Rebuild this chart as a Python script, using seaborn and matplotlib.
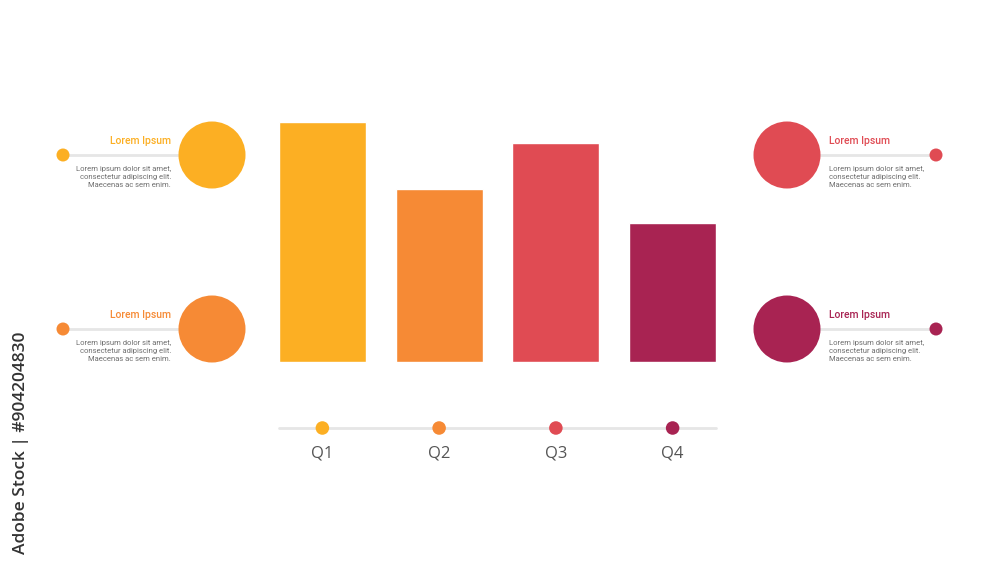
import seaborn as sns
import matplotlib.pyplot as plt
import pandas as pd
from matplotlib.patches import Circle

# data
quarters = ['Q1', 'Q2', 'Q3', 'Q4']
values = [240, 173, 219, 139]
colors = ['#FCAF23', '#F68A35', '#E04B53', '#A82352']
titles = ['Lorem Ipsum'] * 4
body = 'Lorem ipsum dolor sit amet,\nconsectetur adipiscing elit.\nMaecenas ac sem enim.'

sns.set_style('white')
plt.rcParams['font.family'] = ['Roboto', 'DejaVu Sans']

fig = plt.figure(figsize=(10, 5.72), dpi=100)
W, H = 1000, 572

# bar axes: left 264px, right 731px, baseline 362px, top 122px
ax = fig.add_axes([264 / W, 1 - 362 / H, (731 - 264) / W, (362 - 122) / H])
df = pd.DataFrame({'quarter': quarters, 'value': values})
sns.barplot(data=df, x='quarter', y='value', hue='quarter', palette=colors,
            width=0.745, legend=False, ax=ax, saturation=1)
ax.set_xlim(-0.5, 3.5)
ax.set_ylim(0, max(values))
ax.axis('off')

# timeline axes under the bars
tl = fig.add_axes([264 / W, 1 - 482 / H, (731 - 264) / W, 80 / H])
tl.set_xlim(-0.5, 3.5)
tl.set_ylim(-1, 1)
tl.plot([-0.375, 3.375], [0.35, 0.35], color='#E6E6E6', lw=2, zorder=1)
sns.scatterplot(x=range(4), y=[0.35] * 4, hue=quarters, palette=colors,
                s=95, edgecolor='none', legend=False, ax=tl, zorder=2)
for i, q in enumerate(quarters):
    tl.text(i, -0.28, q, ha='center', va='center', fontsize=12,
            color='#555555', family=['Open Sans', 'DejaVu Sans'])
tl.axis('off')

# overlay for side callouts (pixel coordinates)
ov = fig.add_axes([0, 0, 1, 1], zorder=-1)
ov.set_xlim(0, W)
ov.set_ylim(H, 0)
ov.axis('off')

rows = [155, 329]
sides = [(0, rows[0], 'L'), (1, rows[1], 'L'), (2, rows[0], 'R'), (3, rows[1], 'R')]
for idx, cy, side in sides:
    c = colors[idx]
    if side == 'L':
        cx, dx, tx, ha = 212, 63, 171, 'right'
    else:
        cx, dx, tx, ha = 787, 936, 829, 'left'
    ov.plot([dx, cx], [cy, cy], color='#E6E6E6', lw=2, zorder=1)
    ov.add_patch(Circle((cx, cy), 33.5, color=c, zorder=2, lw=0))
    ov.add_patch(Circle((dx, cy), 6.5, color=c, zorder=2, lw=0))
    ov.text(tx, cy - 14, titles[idx], ha=ha, va='center', fontsize=7.5,
            color=c, fontweight='medium')
    ov.text(tx, cy + 22, body, ha=ha, va='center', fontsize=5.5,
            color='#6E6E6E', linespacing=1.4)

# stock watermark
fig.text(21 / W, 1 - 443 / H, 'Adobe Stock | #904204830', rotation=90,
         ha='center', va='center', fontsize=12.5, color='#333333',
         fontweight='semibold', family=['Open Sans', 'DejaVu Sans'])

fig.savefig('out.png', dpi=100)
